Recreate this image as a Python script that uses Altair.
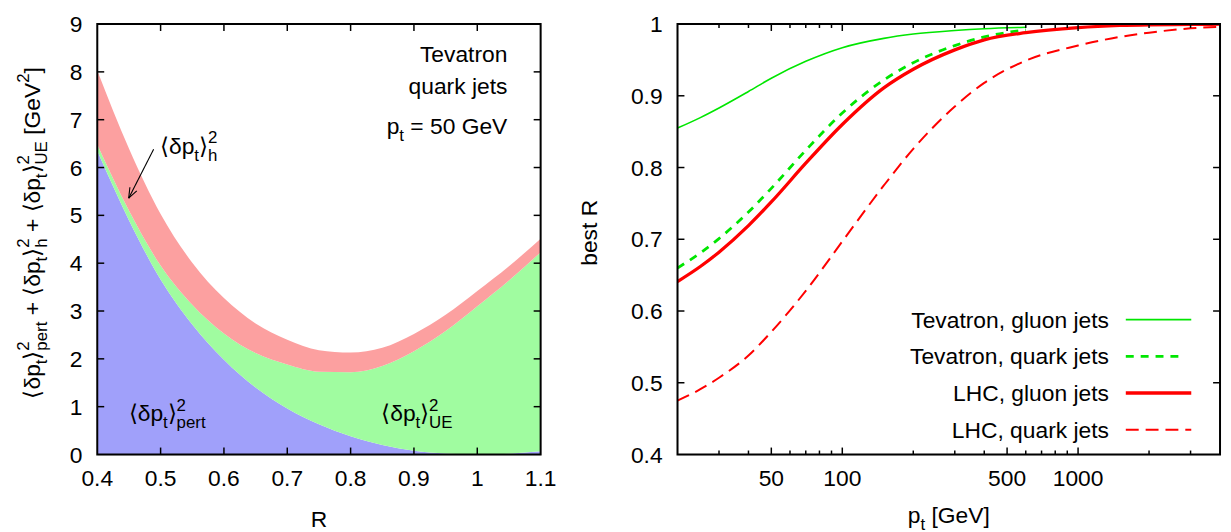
import altair as alt
import pandas as pd
import math

# ---------------- left panel data ----------------
R_vals = [0.40, 0.45, 0.50, 0.55, 0.60, 0.65, 0.70, 0.75, 0.80, 0.85, 0.90, 0.95, 1.00, 1.05, 1.10]
pert_vals = [6.35, 4.90, 3.66, 2.72, 1.98, 1.40, 0.96, 0.63, 0.38, 0.20, 0.08, 0.02, 0.0, 0.018, 0.069]
ue_vals = [0.13, 0.20, 0.29, 0.41, 0.55, 0.72, 0.92, 1.10, 1.34, 1.65, 2.08, 2.56, 3.10, 3.62, 4.16]
had_vals = [1.55, 1.30, 1.08, 0.88, 0.74, 0.62, 0.52, 0.45, 0.41, 0.38, 0.36, 0.34, 0.32, 0.30, 0.28]
R_ticks = [0.4, 0.5, 0.6, 0.7, 0.8, 0.9, 1.0, 1.1]
Y1_ticks = [0, 1, 2, 3, 4, 5, 6, 7, 8, 9]

# ---------------- right panel data ----------------
pt_vals = [20, 25, 30, 40, 50, 70, 100, 150, 200, 300, 400, 600, 1000, 1500, 2000, 3000, 4000]
series_names = ["Tevatron, gluon jets", "Tevatron, quark jets", "LHC, gluon jets", "LHC, quark jets"]
tev_gluon = [0.855, 0.8696, 0.883, 0.906, 0.9245, 0.948, 0.967, 0.980, 0.986, 0.991, 0.9935, 0.9955]
tev_quark = [0.660, 0.681, 0.701, 0.738, 0.771, 0.824, 0.876, 0.922, 0.946, 0.970, 0.982, 0.992]
lhc_gluon = [0.641, 0.662, 0.682, 0.719, 0.752, 0.806, 0.860, 0.911, 0.937, 0.964, 0.978, 0.988,
             0.995, 0.998, 0.999, 0.9995, 0.9998]
lhc_quark = [0.475, 0.491, 0.507, 0.538, 0.571, 0.628, 0.697, 0.775, 0.826, 0.885, 0.918, 0.949,
             0.970, 0.982, 0.988, 0.994, 0.996]
X2_labels = [50, 100, 500, 1000]
X2_minor = [30, 40, 60, 70, 80, 90, 200, 300, 400, 600, 700, 800, 900, 2000, 3000]
Y2_ticks = [0.4, 0.5, 0.6, 0.7, 0.8, 0.9, 1.0]

# ---------------- styling ----------------
FONT = "Liberation Sans"
S, s = 23, 17
SUBDY, SUPDY = 7.0, -10.5
W1, W2, H = 447, 547, 434
BLUE, GREEN_F, RED_F = "#a0a0fa", "#a0fca0", "#fca0a0"
GREEN, RED = "#00e600", "#ff0000"
styles = [(GREEN, None, 1.6), (GREEN, [8, 7], 2.8), (RED, None, 3.3), (RED, [13, 7], 2.0)]

ONE = pd.DataFrame({"k": [0]})

ARIAL = {' ': 278, '+': 584, '=': 584, '[': 278, ']': 278, 'G': 778, 'V': 667, 'U': 722,
         'E': 667, 'e': 556, 'p': 556, 'r': 333, 't': 278, 'h': 556, 'δ': 556,
         '⟨': 390, '⟩': 390, ',': 278}


def tw(txt, size):
    return sum(ARIAL.get(c, 556) for c in txt) * size / 1000.0


def layout(segs):
    out, a = [], 0.0

    def add(txt, size, dy):
        nonlocal a
        core = txt.strip(' ')
        lead = len(txt) - len(txt.lstrip(' '))
        trail = len(txt) - len(txt.rstrip(' '))
        a += tw(' ' * lead, size)
        out.append((core, a, dy, size))
        a += tw(core, size) + tw(' ' * trail, size)

    for seg in segs:
        k = seg[0]
        if k == 'n':
            add(seg[1], S, 0.0)
        elif k == 'sub':
            add(seg[1], s, SUBDY)
        elif k == 'sup':
            add(seg[1], s, SUPDY)
        elif k == 'ss':
            out.append((seg[1], a, SUPDY, s))
            out.append((seg[2], a, SUBDY, s))
            a += max(tw(seg[1], s), tw(seg[2], s))
    return out, a


def place(pieces, x0, y0, rotated=False):
    charts = []
    for txt, a, p, size in pieces:
        if rotated:
            mk = alt.Chart(ONE).mark_text(text=txt, font=FONT, fontSize=size, align='left',
                                          baseline='alphabetic', angle=270, color='black')
            charts.append(mk.encode(x=alt.value(x0 + p), y=alt.value(y0 - a)))
        else:
            mk = alt.Chart(ONE).mark_text(text=txt, font=FONT, fontSize=size, align='left',
                                          baseline='alphabetic', color='black')
            charts.append(mk.encode(x=alt.value(x0 + a), y=alt.value(y0 + p)))
    return charts


def plain(txt, x, y, align='left', angle=None):
    kw = dict(text=txt, font=FONT, fontSize=S, align=align, baseline='alphabetic', color='black')
    if angle is not None:
        kw['angle'] = angle
    return alt.Chart(ONE).mark_text(**kw).encode(x=alt.value(x), y=alt.value(y))


DP = [('n', '⟨δp'), ('sub', 't'), ('n', '⟩')]


def frame(W):
    return alt.Chart(ONE).mark_rect(fillOpacity=0, stroke='black', strokeWidth=2).encode(
        x=alt.value(0), x2=alt.value(W), y=alt.value(0), y2=alt.value(H))


def yticks(vals, scale, W, length):
    df = pd.DataFrame({"v": vals})
    base = alt.Chart(df).mark_rule(color='black', strokeWidth=1.5)
    return [base.encode(y=alt.Y("v:Q", scale=scale, axis=None), x=alt.value(0), x2=alt.value(length)),
            base.encode(y=alt.Y("v:Q", scale=scale, axis=None), x=alt.value(W), x2=alt.value(W - length))]


def xticks(vals, scale, length):
    df = pd.DataFrame({"v": vals})
    base = alt.Chart(df).mark_rule(color='black', strokeWidth=1.5)
    return [base.encode(x=alt.X("v:Q", scale=scale, axis=None), y=alt.value(H), y2=alt.value(H - length)),
            base.encode(x=alt.X("v:Q", scale=scale, axis=None), y=alt.value(0), y2=alt.value(length))]


def ylabels(vals, scale, fmt):
    return alt.Chart(pd.DataFrame({"v": vals})).mark_text(
        font=FONT, fontSize=S, align='right', baseline='alphabetic', dx=-15, dy=8.2, color='black'
    ).encode(y=alt.Y("v:Q", scale=scale, axis=None), x=alt.value(0), text=alt.Text("v:Q", format=fmt))


def xlabels(vals, scale, fmt):
    return alt.Chart(pd.DataFrame({"v": vals})).mark_text(
        font=FONT, fontSize=S, align='center', baseline='alphabetic', color='black'
    ).encode(x=alt.X("v:Q", scale=scale, axis=None), y=alt.value(H + 31.5),
             text=alt.Text("v:Q", format=fmt))


# ================= left panel =================
ldf = pd.DataFrame({"R": R_vals, "pert": pert_vals})
ldf["lo"] = 0.0
ldf["ue_top"] = ldf["pert"] + pd.Series(ue_vals)
ldf["tot"] = ldf["ue_top"] + pd.Series(had_vals)

xs1 = alt.Scale(domain=[0.4, 1.1], nice=False, zero=False)
ys1 = alt.Scale(domain=[0, 9], nice=False, zero=False)

blue = alt.Chart(ldf).mark_area(interpolate="monotone", color=BLUE, opacity=1).encode(
    x=alt.X("R:Q", scale=xs1, axis=None), y=alt.Y("pert:Q", scale=ys1, axis=None), y2="lo:Q")
green = alt.Chart(ldf).mark_area(interpolate="monotone", color=GREEN_F, opacity=1).encode(
    x=alt.X("R:Q", scale=xs1, axis=None), y=alt.Y("ue_top:Q", scale=ys1, axis=None), y2="pert:Q")
red = alt.Chart(ldf).mark_area(interpolate="monotone", color=RED_F, opacity=1).encode(
    x=alt.X("R:Q", scale=xs1, axis=None), y=alt.Y("tot:Q", scale=ys1, axis=None), y2="ue_top:Q")

# arrow pointing at the hadronisation band
sx, sy = W1 / 0.7, H / 9.0
a_start = (0.489, 6.38)
a_tip = (0.4496, 5.36)
dxp = (a_tip[0] - a_start[0]) * sx
dyp = -(a_tip[1] - a_start[1]) * sy
ln = math.hypot(dxp, dyp)
ux, uy = -dxp / ln, -dyp / ln
rows = [dict(x0=a_start[0], y0=a_start[1], x1=a_tip[0], y1=a_tip[1])]
for ang in (0.36, -0.36):
    hx = (ux * math.cos(ang) - uy * math.sin(ang)) * 11
    hy = (ux * math.sin(ang) + uy * math.cos(ang)) * 11
    rows.append(dict(x0=a_tip[0], y0=a_tip[1], x1=a_tip[0] + hx / sx, y1=a_tip[1] - hy / sy))
arrow = alt.Chart(pd.DataFrame(rows)).mark_rule(color='black', strokeWidth=1.1).encode(
    x=alt.X("x0:Q", scale=xs1, axis=None), y=alt.Y("y0:Q", scale=ys1, axis=None),
    x2="x1:Q", y2="y1:Q")

left_layers = [blue, green, red, arrow]
left_layers += yticks([1, 2, 3, 4, 5, 6, 7, 8], ys1, W1, 7)
left_layers += xticks([0.5, 0.6, 0.7, 0.8, 0.9, 1.0], xs1, 7)
left_layers.append(frame(W1))
left_layers.append(ylabels(Y1_ticks, ys1, "d"))
left_layers.append(xlabels(R_ticks, xs1, "~g"))

# annotations
pcs, _ = layout(DP + [('ss', '2', 'h')])
left_layers += place(pcs, 63.3, 130.7)
pcs, _ = layout(DP + [('ss', '2', 'pert')])
left_layers += place(pcs, 31.7, 400.7)
pcs, _ = layout(DP + [('ss', '2', 'UE')])
left_layers += place(pcs, 286.3, 400.7)
left_layers.append(plain("Tevatron", 413.5, 38, align='right'))
left_layers.append(plain("quark jets", 413.5, 71, align='right'))
pcs, L = layout([('n', 'p'), ('sub', 't'), ('n', ' = 50 GeV')])
left_layers += place(pcs, 413.5 - L, 110.7)

# y title (rotated, with sub/superscripts)
ysegs = (DP + [('ss', '2', 'pert'), ('n', ' + ')] + DP + [('ss', '2', 'h'), ('n', ' + ')] + DP +
         [('ss', '2', 'UE'), ('n', ' [GeV'), ('sup', '2'), ('n', ']')])
pcs, L = layout(ysegs)
left_layers += place(pcs, -58, 210.5 + L / 2, rotated=True)
left_layers.append(plain("R", W1 / 2, 507, align='center'))
# layout anchor (white, invisible) fixing the top-left extent
left_layers.append(alt.Chart(ONE).mark_rule(color='white', strokeWidth=1).encode(
    x=alt.value(-89), x2=alt.value(-88), y=alt.value(-13), y2=alt.value(-13)))

left = alt.layer(*left_layers).properties(width=W1, height=H)

# ================= right panel =================
rrows = []
for name, vals in zip(series_names, [tev_gluon, tev_quark, lhc_gluon, lhc_quark]):
    for p, v in zip(pt_vals, vals):
        rrows.append(dict(series=name, pt=p, R=v))
rdf = pd.DataFrame(rrows)

xs2 = alt.Scale(type="log", domain=[20, 4000], nice=False)
ys2 = alt.Scale(domain=[0.4, 1.0], nice=False, zero=False)

right_layers = []
for name, (col, dash, wid) in zip(series_names, styles):
    mk = dict(interpolate="monotone", color=col, strokeWidth=wid, clip=True)
    if dash:
        mk["strokeDash"] = dash
    right_layers.append(alt.Chart(rdf).transform_filter(alt.datum.series == name)
                        .mark_line(**mk).encode(x=alt.X("pt:Q", scale=xs2, axis=None),
                                                y=alt.Y("R:Q", scale=ys2, axis=None)))

right_layers += yticks([0.5, 0.6, 0.7, 0.8, 0.9], ys2, W2, 7)
right_layers += xticks(X2_labels, xs2, 7)
right_layers += xticks(X2_minor, xs2, 4)
right_layers.append(frame(W2))
right_layers.append(ylabels(Y2_ticks, ys2, "~g"))
right_layers.append(xlabels(X2_labels, xs2, "d"))

# legend
for i, (name, (col, dash, wid)) in enumerate(zip(series_names, styles)):
    ly = 298 + 37 * i
    right_layers.append(plain(name, 435, ly + 8, align='right'))
    mk = dict(color=col, strokeWidth=wid)
    if dash:
        mk["strokeDash"] = dash
    x_end = 518 if not dash or dash[0] > 10 else 512
    right_layers.append(alt.Chart(ONE).mark_rule(**mk).encode(
        x=alt.value(452), x2=alt.value(x_end), y=alt.value(ly), y2=alt.value(ly)))

right_layers.append(plain("best R", -80.7, 210.5, align='center', angle=270))
pcs, L = layout([('n', 'p'), ('sub', 't'), ('n', ' [GeV]')])
right_layers += place(pcs, W2 / 2 - L / 2, 503)
right_layers.append(alt.Chart(ONE).mark_rule(color='white', strokeWidth=1).encode(
    x=alt.value(W2 + 1), x2=alt.value(W2 + 2), y=alt.value(0), y2=alt.value(0)))

right = alt.layer(*right_layers).properties(width=W2, height=H)

chart = alt.hconcat(left, right, spacing=138, bounds="flush").properties(
    padding=0
).configure_view(strokeWidth=0).configure(font=FONT)

chart.save("out.html", embed_options={"renderer": "svg", "actions": False})
